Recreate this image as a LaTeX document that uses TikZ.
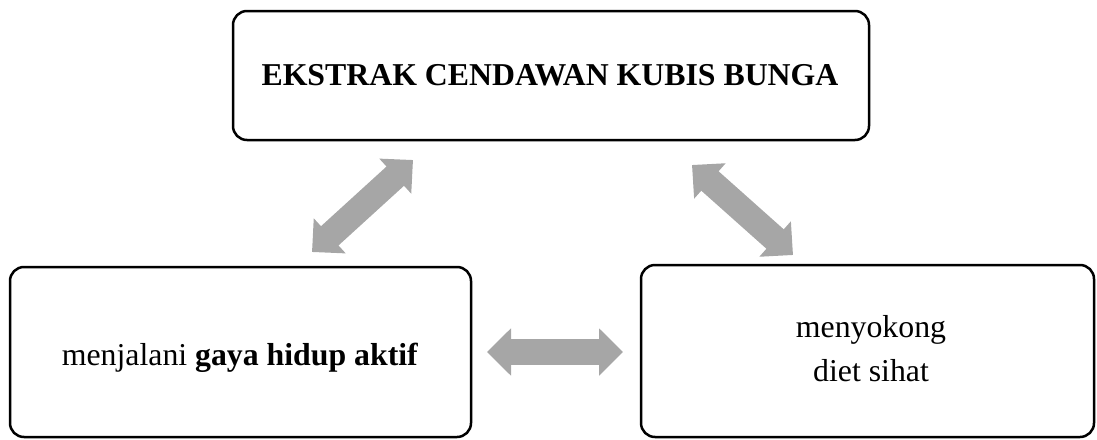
\documentclass[tikz,border=0pt]{standalone}
\usepackage{fontspec}
\setmainfont{Liberation Serif}
\usetikzlibrary{arrows.meta}
\definecolor{arrowgray}{HTML}{A6A6A6}
\begin{document}
\begin{tikzpicture}[x=1pt,y=-1pt,
  box/.style={draw=black,line width=2.5pt,rounded corners=14pt,fill=white},
  lbl/.style={font=\fontsize{31.8}{44}\selectfont,inner sep=0pt},
  dblarrow/.style={draw=arrowgray,line width=26pt,
    {Triangle[length=24pt,width=46pt]}-{Triangle[length=24pt,width=46pt]}}]
\useasboundingbox (0,0) rectangle (1097,439);
\draw[box] (233,11) rectangle (869,140);
\node[lbl,font=\fontsize{31.8}{44}\selectfont\bfseries,anchor=base] (top) at (550,85) {EKSTRAK CENDAWAN KUBIS BUNGA};
\draw[box] (10,267) rectangle (471,437);
\node[lbl,anchor=base] (left) at (240,365) {menjalani \textbf{gaya hidup aktif}};
\draw[box] (641,265) rectangle (1094,437);
\node[lbl,align=center] (right) at (871,349) {menyokong\\diet sihat};
\coordinate (a1) at (312,252);
\coordinate (a2) at (413,160);
\coordinate (b1) at (692,165);
\coordinate (b2) at (793,255);
\coordinate (c1) at (487,352);
\coordinate (c2) at (623,352);
\draw[dblarrow] (a1) -- (a2);
\draw[dblarrow] (b1) -- (b2);
\draw[dblarrow] (c1) -- (c2);
\end{tikzpicture}
\end{document}
